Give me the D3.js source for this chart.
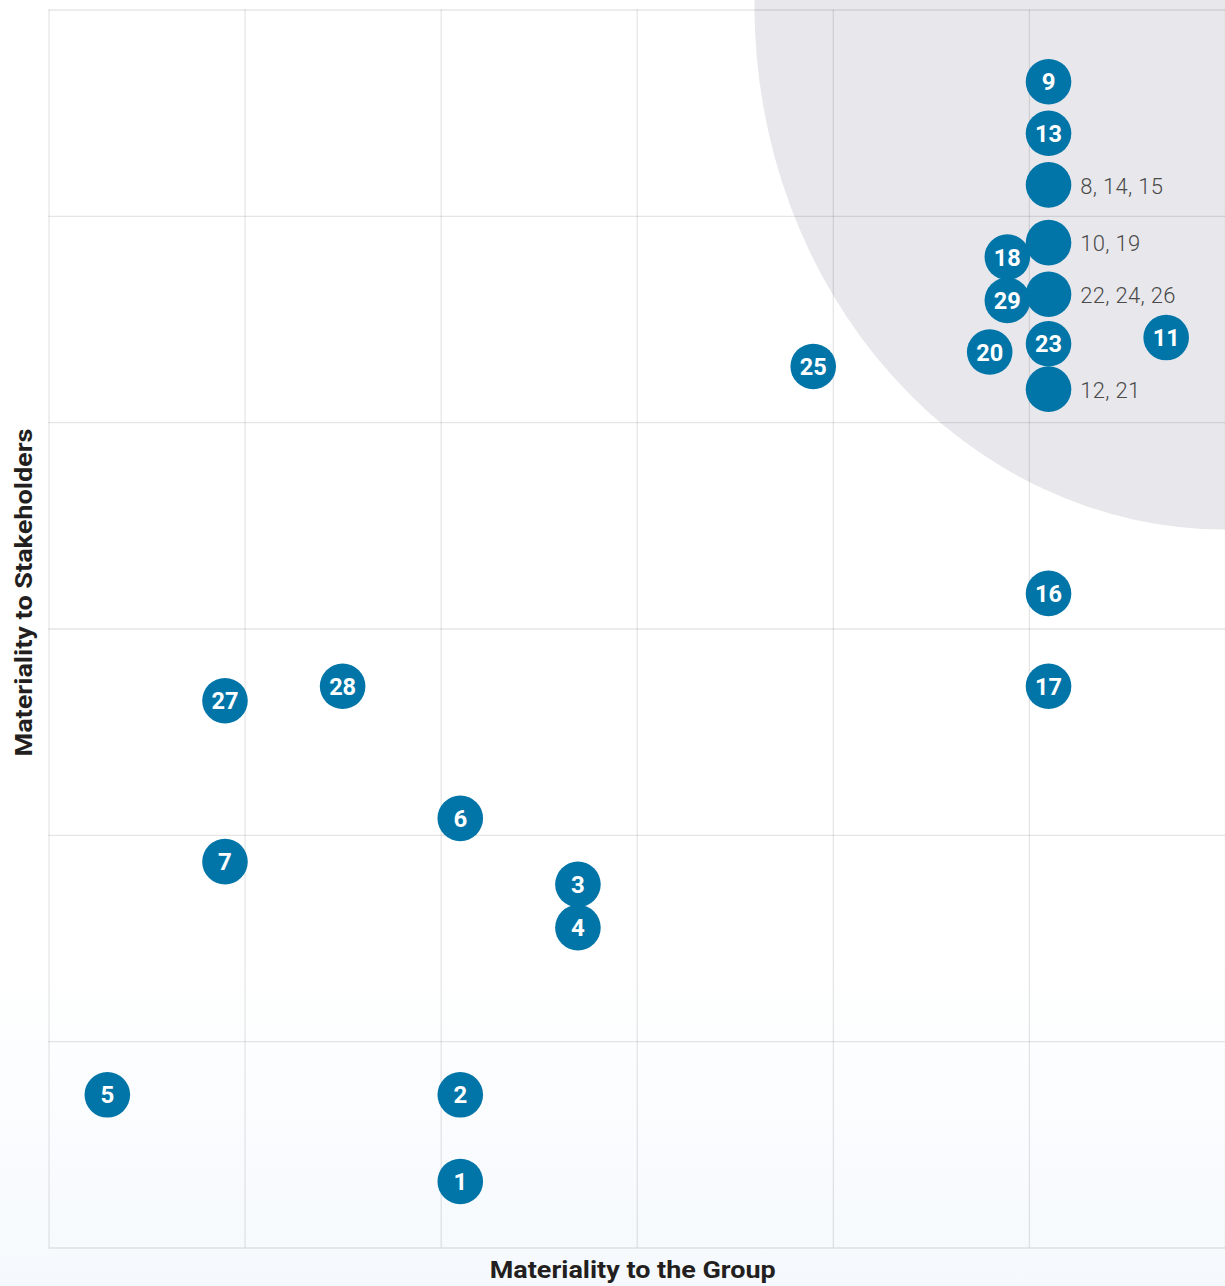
<!DOCTYPE html>
<html>
<head>
<meta charset="utf-8">
<script src="https://cdn.jsdelivr.net/npm/d3@7"></script>
<style>
    html, body { margin: 0; padding: 0; background: #fff; }
    svg { display: block; }
</style>
</head>
<body>
<svg id="chart" width="1225" height="1286"></svg>
<script>
// Issue numbers, positions on the matrix (0-6 on both axes).
const issueLabels = ["1", "2", "3", "4", "5", "6", "7", "27", "28", "25",
    "9", "13", "8, 14, 15", "10, 19", "18", "29", "22, 24, 26",
    "20", "23", "11", "12, 21", "16", "17"];
const groupScores = [2.10, 2.10, 2.70, 2.70, 0.30, 2.10, 0.90, 0.90, 1.50, 3.90,
    5.10, 5.10, 5.10, 5.10, 4.89, 4.89, 5.10,
    4.80, 5.10, 5.70, 5.10, 5.10, 5.10];
const stakeholderScores = [0.32, 0.74, 1.76, 1.55, 0.74, 2.08, 1.87, 2.65, 2.72, 4.27,
    5.65, 5.40, 5.15, 4.87, 4.80, 4.59, 4.62,
    4.34, 4.38, 4.41, 4.16, 3.17, 2.72];

const gridTicks = [0, 1, 2, 3, 4, 5, 6];

// High materiality zone: quarter ellipse from the top right corner.
const zoneStartX = 3.6;
const zoneEndY = 3.48;

const xTitle = "Materiality to the Group";
const yTitle = "Materiality to Stakeholders";

// Display parameters.
let width = 1225;
let height = 1286;
let margin = {top: 9.5, right: 0, bottom: 38.5, left: 48.5};
let dotColour = "#0175a8";
let dotRadius = 22.8;
let zoneColour = "#e8e8ec";

let svg = d3.select("#chart");

// Page background fades to a pale blue at the bottom.
let defs = svg.append("defs");
let grad = defs.append("linearGradient")
    .attr("id", "bg")
    .attr("x1", 0).attr("y1", 0)
    .attr("x2", 0).attr("y2", 1);
grad.append("stop").attr("offset", "0.75").attr("stop-color", "#ffffff");
grad.append("stop").attr("offset", "1").attr("stop-color", "#f5f9fd");

svg.append("rect")
    .attr("width", width)
    .attr("height", height)
    .attr("fill", "url(#bg)");

let x = d3.scaleLinear()
    .domain([0, 6])
    .range([margin.left, width - margin.right]);

let y = d3.scaleLinear()
    .domain([0, 6])
    .range([height - margin.bottom, margin.top]);

// Shaded zone.
svg.append("ellipse")
    .attr("cx", x(6))
    .attr("cy", y(6) - 4.5)
    .attr("rx", x(6) - x(zoneStartX))
    .attr("ry", y(zoneEndY) - y(6) + 4.5)
    .attr("fill", zoneColour);

// Grid lines, drawn with axes.
let gridStyle = function(g) {
    g.select(".domain").remove();
    g.selectAll(".tick line")
        .attr("stroke", "#000")
        .attr("stroke-opacity", 0.1)
        .attr("stroke-width", 1.3);
};

svg.append("g")
    .attr("transform", `translate(0,${y(0)})`)
    .call(d3.axisBottom(x)
        .tickValues(gridTicks)
        .tickSize(-(y(0) - y(6)))
        .tickFormat(""))
    .call(gridStyle);

svg.append("g")
    .attr("transform", `translate(${x(0)},0)`)
    .call(d3.axisLeft(y)
        .tickValues(gridTicks)
        .tickSize(-(x(6) - x(0)))
        .tickFormat(""))
    .call(gridStyle);

// Points.
let points = issueLabels.map(function(label, i) {
    return {label: label, gx: groupScores[i], sy: stakeholderScores[i], grouped: label.includes(",")};
});

let node = svg.append("g")
    .attr("class", "nodes")
    .selectAll("g")
    .data(points)
    .enter()
    .append("g")
    .attr("transform", function(d) {
        return `translate(${x(d.gx)},${y(d.sy)})`;
    });

node.append("circle")
    .attr("r", dotRadius)
    .attr("fill", dotColour);

// Single issues are numbered inside the circle.
node.filter(function(d) { return !d.grouped; })
    .append("text")
    .attr("text-anchor", "middle")
    .attr("dy", "0.36em")
    .attr("fill", "#fff")
    .style("font-family", "Roboto, sans-serif")
    .style("font-weight", "700")
    .style("font-size", "24px")
    .attr("textLength", function(d) { return d.label.length > 1 ? 27 : null; })
    .attr("lengthAdjust", "spacingAndGlyphs")
    .text(function(d) { return d.label; });

// Grouped issues get their numbers to the right.
node.filter(function(d) { return d.grouped; })
    .append("text")
    .attr("x", dotRadius + 9)
    .attr("dy", "0.4em")
    .attr("fill", "#4a4a4a")
    .style("font-family", "Roboto, sans-serif")
    .style("font-weight", "300")
    .style("font-size", "22px")
    .style("letter-spacing", "0.3px")
    .text(function(d) { return d.label; });

// Axis titles.
svg.append("text")
    .attr("x", (x(0) + x(6)) / 2 - 4)
    .attr("y", 1278)
    .attr("text-anchor", "middle")
    .attr("fill", "#231f20")
    .style("font-family", "Roboto, sans-serif")
    .style("font-weight", "700")
    .style("font-size", "24px")
    .attr("textLength", 286)
    .attr("lengthAdjust", "spacingAndGlyphs")
    .text(xTitle);

svg.append("text")
    .attr("transform", `translate(32,${(y(0) + y(6)) / 2 - 36}) rotate(-90)`)
    .attr("text-anchor", "middle")
    .attr("fill", "#231f20")
    .style("font-family", "Roboto, sans-serif")
    .style("font-weight", "700")
    .style("font-size", "24px")
    .attr("textLength", 328)
    .attr("lengthAdjust", "spacingAndGlyphs")
    .text(yTitle);
</script>
</body>
</html>
